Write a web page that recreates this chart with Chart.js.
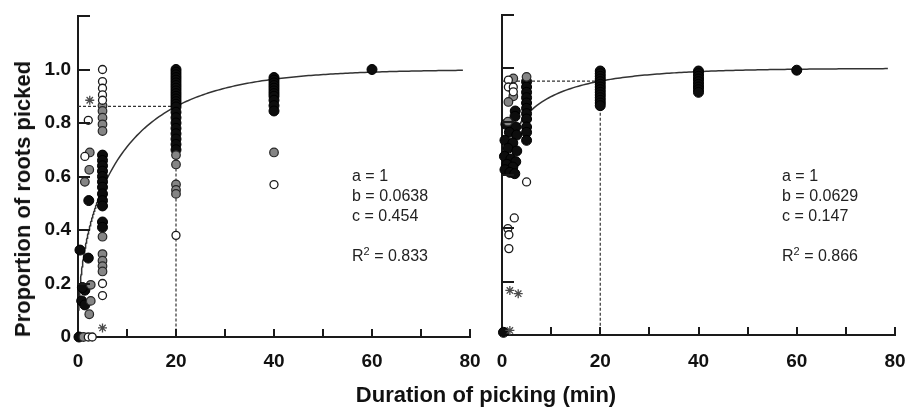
<!DOCTYPE html>
<html>
<head>
<meta charset="utf-8">
<script src="https://cdn.jsdelivr.net/npm/chart.js@4.4.1/dist/chart.umd.min.js"></script>
<style>
body{margin:0;background:#fff;}
#wrap{position:relative;width:907px;height:408px;overflow:hidden;font-family:"Liberation Sans",Arial,sans-serif;color:#111;}
canvas{position:absolute;top:0;}
#left{left:0;}
#right{left:486px;}
.ytitle{position:absolute;left:23px;top:199px;transform:translate(-50%,-50%) rotate(-90deg);font-weight:bold;font-size:22px;line-height:22px;white-space:nowrap;}
.xtitle{position:absolute;left:486px;top:384px;transform:translateX(-50%);font-weight:bold;font-size:22px;line-height:22px;white-space:nowrap;}
.note{position:absolute;top:166px;font-size:16px;line-height:20px;color:#222;white-space:nowrap;}
.note span{position:relative;top:-6px;font-size:11px;}
</style>
</head>
<body>
<div id="wrap">
  <canvas id="left" width="486" height="408"></canvas>
  <canvas id="right" width="421" height="408"></canvas>
  <div class="ytitle">Proportion of roots picked</div>
  <div class="xtitle">Duration of picking (min)</div>
  <div class="note" style="left:352px">a = 1<br>b = 0.0638<br>c = 0.454<br><br>R<span>2</span> = 0.833</div>
  <div class="note" style="left:782px">a = 1<br>b = 0.0629<br>c = 0.147<br><br>R<span>2</span> = 0.866</div>
</div>
<script>
// tick labels
const xTickLabels=[0,20,40,60,80];
const yTickLabels=['0','0.2','0.4','0.6','0.8','1.0'];

// fitted curve y = a*(1-exp(-b*x))^c  -> [a,b,c]
const leftParams=[1,0.0638,0.454];
const rightParams=[1,0.0629,0.147];
const guideX=20;

//  left panel points [x,y]
const leftBlack=[[0.2,0],[0.4,0.325],[2.1,0.295],[2.2,0.51],[1.4,0.175],[0.9,0.185],[0.75,0.135],[1.4,0.12],
  [5,0.68],[5,0.66],[5,0.64],[5,0.62],[5,0.60],[5,0.58],[5,0.56],[5,0.535],[5,0.51],[5,0.49],[5,0.43],[5,0.41],
  [20,1.0],[20,0.99],[20,0.98],[20,0.97],[20,0.96],[20,0.95],[20,0.94],[20,0.93],[20,0.92],[20,0.91],[20,0.90],[20,0.89],
  [20,0.88],[20,0.87],[20,0.86],[20,0.84],[20,0.82],[20,0.80],[20,0.78],[20,0.76],[20,0.74],[20,0.72],[20,0.70],
  [40,0.97],[40,0.96],[40,0.95],[40,0.94],[40,0.93],[40,0.92],[40,0.91],[40,0.90],[40,0.885],[40,0.865],[40,0.845],
  [60,1.0]];
const leftGray=[[2.4,0.69],[2.3,0.625],[1.4,0.58],[2.6,0.195],[2.6,0.135],[2.3,0.085],[1.1,0],
  [5,0.865],[5,0.845],[5,0.82],[5,0.795],[5,0.77],[5,0.375],[5,0.31],[5,0.285],[5,0.265],[5,0.245],
  [20,0.68],[20,0.645],[20,0.57],[20,0.55],[20,0.535],[40,0.69]];
const leftOpen=[[2.1,0.81],[1.4,0.675],[2.1,0],[2.9,0],
  [5,1.0],[5,0.955],[5,0.93],[5,0.905],[5,0.885],[5,0.2],[5,0.155],[20,0.38],[40,0.57]];
const leftStar=[[2.4,0.885],[5,0.034]];

//  right panel points [x,y]
const rightBlack=[[0.3,0.01],[2.7,0.84],[2.65,0.82],
  [0.8,0.79],[2.8,0.78],[1.5,0.76],[3.0,0.75],[0.6,0.73],[2.2,0.72],[1.2,0.70],[3.0,0.69],[0.5,0.67],[1.8,0.66],
  [2.8,0.65],[1.0,0.64],[2.2,0.63],[0.6,0.62],[1.6,0.61],[2.6,0.605],
  [5,0.95],[5,0.93],[5,0.91],[5,0.89],[5,0.87],[5,0.85],[5,0.83],[5,0.81],[5,0.78],[5,0.76],[5,0.73],
  [20,0.99],[20,0.98],[20,0.97],[20,0.96],[20,0.95],[20,0.94],[20,0.93],[20,0.92],[20,0.91],[20,0.90],[20,0.89],[20,0.88],[20,0.87],[20,0.86],
  [40,0.99],[40,0.98],[40,0.97],[40,0.96],[40,0.95],[40,0.94],[40,0.93],[40,0.92],[40,0.91],
  [60,0.993]];
const rightGray=[[2.3,0.962],[2.3,0.895],[1.3,0.874],[1.2,0.80],[5,0.968]];
const rightOpen=[[1.3,0.956],[1.3,0.93],[2.3,0.93],[2.3,0.912],[2.5,0.439],[1.2,0.399],[1.4,0.376],[1.4,0.324],[5,0.574]];
const rightStar=[[1.6,0.167],[3.3,0.155],[1.6,0.017]];

const FONT='"Liberation Sans", Arial, sans-serif';

function pts(list){ return list.map(p=>({x:p[0],y:p[1]})); }
function model(p,x){ return p[0]*Math.pow(1-Math.exp(-p[1]*x),p[2]); }
function curve(p,x0){
  let out=[];
  for(let x=x0;x<=79;x+= (x<5?0.05:0.5)) out.push({x:x,y:model(p,x)});
  return out;
}
function guide(p){
  let yh=model(p,guideX);
  return [{x:0,y:yh},{x:guideX,y:yh},{x:guideX,y:0}];
}

//ticks pointing into the plot
const inwardTicks={
  id:'inwardTicks',
  afterDraw(chart){
    const ctx=chart.ctx, xs=chart.scales.x, ys=chart.scales.y;
    ctx.save();
    ctx.strokeStyle='#1a1a1a';
    ctx.lineWidth=2;
    ctx.beginPath();
    xs.ticks.forEach(t=>{
      if(t.value<=0) return;
      let px=Math.round(xs.getPixelForValue(t.value));
      ctx.moveTo(px,ys.bottom);
      ctx.lineTo(px,ys.bottom-8);
    });
    ys.ticks.forEach(t=>{
      if(t.value<=0) return;
      let py=Math.round(ys.getPixelForValue(t.value));
      ctx.moveTo(xs.left,py);
      ctx.lineTo(xs.left+12,py);
    });
    ctx.stroke();
    ctx.restore();
  }
};

function panel(id,d){
  return new Chart(document.getElementById(id),{
    type:'scatter',
    data:{datasets:[
      {data:pts(d.star),pointStyle:'star',pointRadius:4.5,borderColor:'#4a4a4a',borderWidth:1.3,clip:false,order:1},
      {data:pts(d.open),pointRadius:4,backgroundColor:'#fff',borderColor:'#1a1a1a',borderWidth:1.3,clip:false,order:2},
      {data:pts(d.gray),pointRadius:4.3,backgroundColor:'#858585',borderColor:'#262626',borderWidth:1.2,clip:false,order:3},
      {data:pts(d.black),pointRadius:5,backgroundColor:'#0d0d0d',borderColor:'#000',borderWidth:1,clip:false,order:4},
      {data:guide(d.params),showLine:true,pointRadius:0,borderColor:'#333',borderWidth:1.2,borderDash:[3,2],order:5},
      {data:curve(d.params,d.start),showLine:true,pointRadius:0,borderColor:'#333',borderWidth:1.5,order:6}
    ]},
    options:{
      responsive:false,
      animation:false,
      events:[],
      layout:{padding:d.pad},
      plugins:{legend:{display:false},tooltip:{enabled:false}},
      scales:{
        x:{type:'linear',min:0,max:80,
          afterFit(s){ s.height=d.xh; s.paddingLeft=0; s.paddingRight=0; },
          grid:{display:false,drawTicks:false},
          border:{display:true,color:'#1a1a1a',width:2},
          ticks:{stepSize:10,autoSkip:false,maxRotation:0,padding:d.xpad,color:'#111',
            font:{family:FONT,size:19,weight:'bold'},
            callback:v=>xTickLabels.includes(v)?String(v):''}
        },
        y:{type:'linear',min:0,max:1.2,
          afterFit(s){ s.width=d.yw; s.paddingTop=0; s.paddingBottom=0; },
          grid:{display:false,drawTicks:false},
          border:{display:true,color:'#1a1a1a',width:2},
          ticks:{stepSize:0.2,display:d.yLabels,padding:7,color:'#111',
            font:{family:FONT,size:19,weight:'bold'},
            callback:v=>{ let i=Math.round(v/0.2); return i<yTickLabels.length?yTickLabels[i]:''; }}
        }
      }
    },
    plugins:[inwardTicks]
  });
}

panel('left',{black:leftBlack,gray:leftGray,open:leftOpen,star:leftStar,params:leftParams,start:0.1,
  pad:{left:0,top:16,right:16,bottom:0},xh:71,yw:78,xpad:13,yLabels:true});
panel('right',{black:rightBlack,gray:rightGray,open:rightOpen,star:rightStar,params:rightParams,start:0.5,
  pad:{left:0,top:15,right:12,bottom:0},xh:73,yw:16,xpad:15,yLabels:false});
</script>
</body>
</html>
